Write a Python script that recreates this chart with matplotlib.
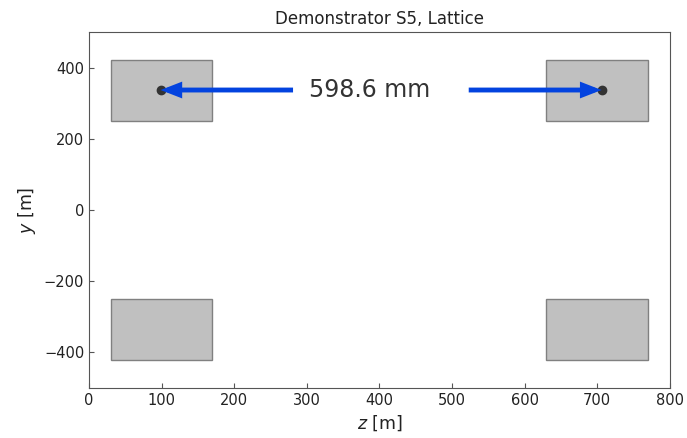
import matplotlib
matplotlib.use('Agg')
import matplotlib.pyplot as plt
from matplotlib.patches import Rectangle

# magnet blocks: (z0, y0, width, height)
blocks_z = [30, 630, 30, 630]
blocks_y = [250, 250, -420, -420]
block_w = 140
block_h = 170

# marker points
pts_z = [98.5, 706]
pts_y = [337, 337]

label = '598.6 mm'
text_z = 386
arrow_start = [281, 523]

fig = plt.figure(figsize=(6.87, 4.38), dpi=100)
ax = fig.add_axes([0.1296, 0.114, 0.8454, 0.813])

for z0, y0 in zip(blocks_z, blocks_y):
    ax.add_patch(Rectangle((z0, y0), block_w, block_h, facecolor='#c0c0c0',
                           edgecolor='#808080', lw=1))

ax.plot(pts_z, pts_y, 'o', color='#333333', ms=6, zorder=3)

for zs, ze, ye in zip(arrow_start, pts_z, pts_y):
    ax.annotate('', xy=(ze, ye), xytext=(zs, ye),
                arrowprops=dict(arrowstyle='-|>,head_length=0.9,head_width=0.35',
                                lw=3.5, color='#0343df', shrinkA=0, shrinkB=0,
                                capstyle='butt', joinstyle='miter'),
                zorder=4)

ax.text(text_z, pts_y[0], label, fontsize=17, color='#333333',
        ha='center', va='center')

ax.set_xlim(0, 800)
ax.set_ylim(-500, 500)
ax.set_xticks(range(0, 801, 100))
ax.set_yticks(range(-400, 401, 200))
ax.tick_params(direction='in', labelsize=10.5, colors='#555555', labelcolor='#222222')
for s in ax.spines.values():
    s.set_color('#555555')
ax.set_xlabel('$z$ [m]', fontsize=12.5, color='#222222')
ax.set_ylabel('$y$ [m]', fontsize=12.5, color='#222222')
ax.set_title('Demonstrator S5, Lattice', fontsize=12, color='#222222')

fig.savefig('out.png', dpi=100)
